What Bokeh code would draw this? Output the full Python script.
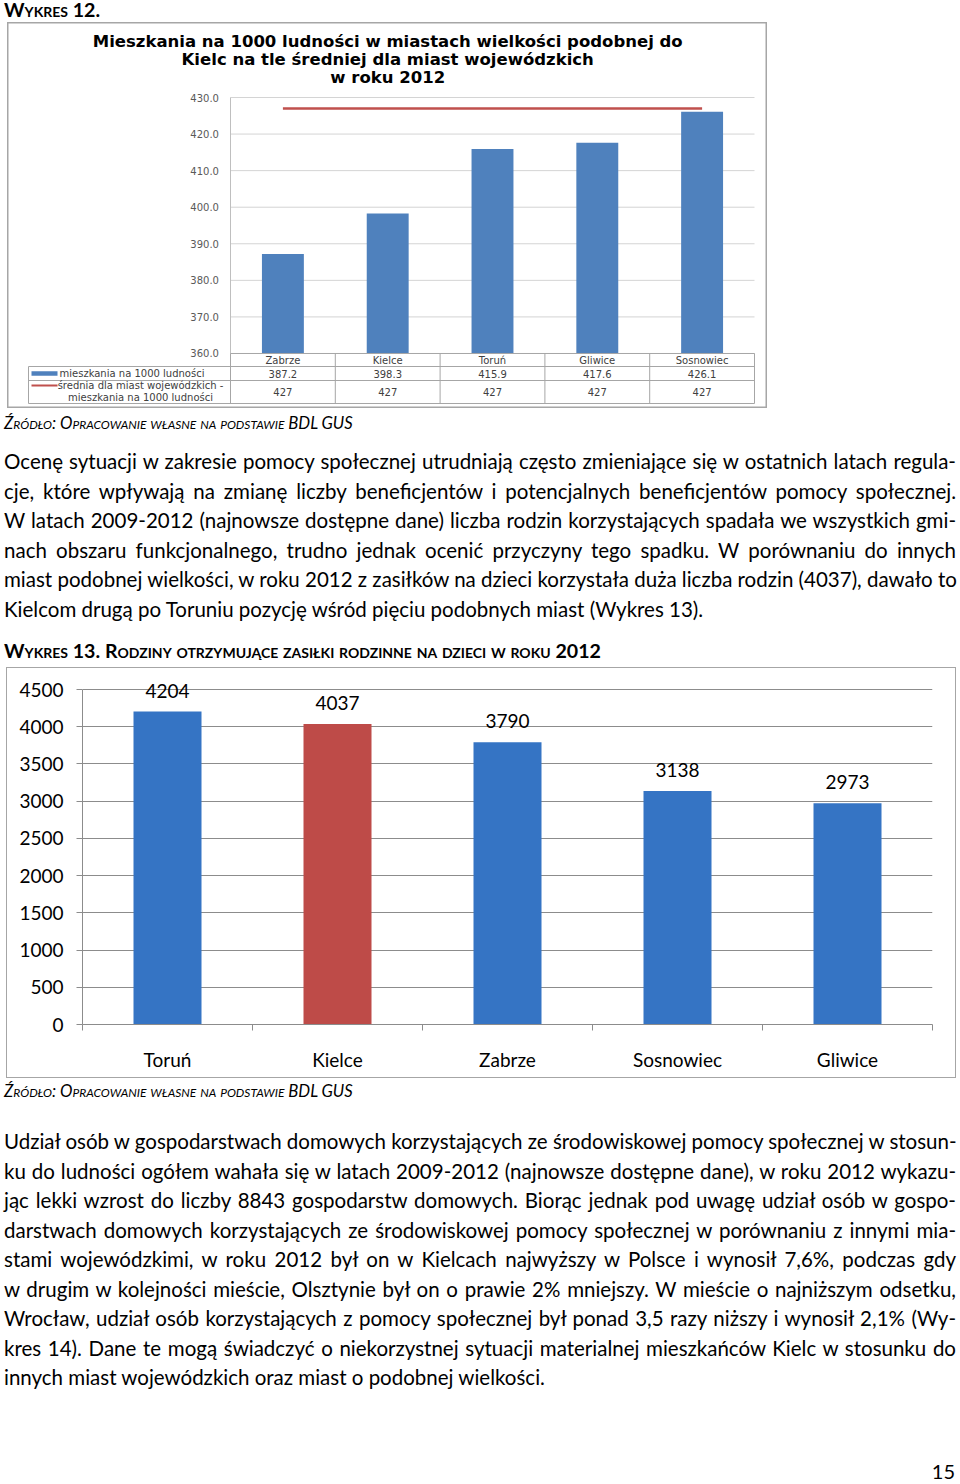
from bokeh.plotting import figure
from bokeh.models import Range1d, Div, FixedTicker, Spacer
from bokeh.layouts import column, row
from bokeh.embed import file_html
from bokeh.resources import INLINE
from bokeh.core.properties import value

# ---------------- data: chart 12 ----------------
c1_cities = ["Zabrze", "Kielce", "Toruń", "Gliwice", "Sosnowiec"]
c1_values = [387.2, 398.3, 415.9, 417.6, 426.1]
c1_avg = [427, 427, 427, 427, 427]
c1_ticks = [360, 370, 380, 390, 400, 410, 420, 430]
c1_title = ["Mieszkania na 1000 ludności w miastach wielkości podobnej do",
            "Kielc na tle średniej dla miast wojewódzkich",
            "w roku 2012"]
c1_series_bar = "mieszkania na 1000 ludności"
c1_series_line = ["średnia dla miast wojewódzkich -", "mieszkania na 1000 ludności"]

# ---------------- data: chart 13 ----------------
c2_cities = ["Toruń", "Kielce", "Zabrze", "Sosnowiec", "Gliwice"]
c2_values = [4204, 4037, 3790, 3138, 2973]
c2_ticks = [0, 500, 1000, 1500, 2000, 2500, 3000, 3500, 4000, 4500]
BLUE2 = "#3574C4"
RED2 = "#BE4B48"
c2_colors = [BLUE2, RED2, BLUE2, BLUE2, BLUE2]

# ---------------- texts ----------------
para1 = [
    "Ocenę sytuacji w zakresie pomocy społecznej utrudniają często zmieniające się w ostatnich latach regula-",
    "cje, które wpływają na zmianę liczby beneficjentów i potencjalnych beneficjentów pomocy społecznej.",
    "W latach 2009-2012 (najnowsze dostępne dane) liczba rodzin korzystających spadała we wszystkich gmi-",
    "nach obszaru funkcjonalnego, trudno jednak ocenić przyczyny tego spadku. W porównaniu do innych",
    "miast podobnej wielkości, w roku 2012 z zasiłków na dzieci korzystała duża liczba rodzin (4037), dawało to",
    "Kielcom drugą po Toruniu pozycję wśród pięciu podobnych miast (Wykres 13).",
]
para2 = [
    "Udział osób w gospodarstwach domowych korzystających ze środowiskowej pomocy społecznej w stosun-",
    "ku do ludności ogółem wahała się w latach 2009-2012 (najnowsze dostępne dane), w roku 2012 wykazu-",
    "jąc lekki wzrost do liczby 8843 gospodarstw domowych. Biorąc jednak pod uwagę udział osób w gospo-",
    "darstwach domowych korzystających ze środowiskowej pomocy społecznej w porównaniu z innymi mia-",
    "stami wojewódzkimi, w roku 2012 był on w Kielcach najwyższy w Polsce i wynosił 7,6%, podczas gdy",
    "w drugim w kolejności mieście, Olsztynie był on o prawie 2% mniejszy. W mieście o najniższym odsetku,",
    "Wrocław, udział osób korzystających z pomocy społecznej był ponad 3,5 razy niższy i wynosił 2,1% (Wy-",
    "kres 14). Dane te mogą świadczyć o niekorzystnej sytuacji materialnej mieszkańców Kielc w stosunku do",
    "innych miast wojewódzkich oraz miast o podobnej wielkości.",
]
heading12 = "Wykres 12."
heading13 = "Wykres 13. Rodziny otrzymujące zasiłki rodzinne na dzieci w roku 2012"
source = "Źródło: Opracowanie własne na podstawie BDL GUS"
page_no = "15"

FONT = "Lato"
BODY_SIZE = "20.5px"
W = 960
DIV_STYLE = {"display": "block", "overflow": "visible", "margin": "0", "padding": "0"}


def para_html(lines, top):
    out = [f'<div style="position:absolute;left:4px;top:{top}px;width:952px;'
           f'font-family:{FONT};font-size:{BODY_SIZE};line-height:29.5px;color:#000;">']
    for i, ln in enumerate(lines):
        last = i == len(lines) - 1
        al = "left" if last else "justify"
        out.append(f'<div style="white-space:nowrap;text-align:{al};text-align-last:{al};">{ln}</div>')
    out.append('</div>')
    return "".join(out)


def source_html(top):
    return (f'<div style="position:absolute;left:4px;top:{top}px;font-family:{FONT};font-style:italic;'
            f'font-variant:small-caps;font-size:16.7px;line-height:20px;white-space:nowrap;color:#000;">{source}</div>')


def heading_html(text, top, size="19.6px", lh=22):
    return (f'<div style="position:absolute;left:4px;top:{top}px;font-family:{FONT};font-weight:bold;'
            f'font-variant:small-caps;font-size:{size};line-height:{lh}px;white-space:nowrap;color:#000;">{text}</div>')


def block(inner, h):
    return Div(text=f'<div style="position:relative;display:block;vertical-align:top;width:{W}px;'
                    f'height:{h}px;margin:0;padding:0;">' + inner + '</div>',
               width=W, height=h, styles=DIV_STYLE)


# ---------------- heading 12 ----------------
divA = block(heading_html(heading12, 0, "19.6px", 19), 22)

# ---------------- chart 12 ----------------
PX = 104.8    # px per category
PY = 3.657    # px per unit
x0 = -223 / PX
y_top = 430 + 75 / PY
p1 = figure(width=760, height=386, output_backend="svg", toolbar_location=None,
            x_range=Range1d(x0, x0 + 760 / PX), y_range=Range1d(y_top - 386 / PY, y_top),
            x_axis_location=None, y_axis_location=None, min_border=0, frame_align=False)
p1.grid.visible = False
p1.outline_line_color = "#A6A6A6"
p1.outline_line_width = 2
p1.background_fill_color = "white"
p1.border_fill_color = "white"

xc = [i + 0.5 for i in range(len(c1_cities))]

# title
p1.text(x=[1.5] * 3, y=[430 + 56 / PY, 430 + 38 / PY, 430 + 20 / PY], text=c1_title,
        text_align="center", text_baseline="middle", text_font=value("DejaVu Sans"),
        text_font_style="bold", text_font_size="16.5px", text_color="#000000")

# grid lines and left border of plot area
p1.segment(x0=[0] * len(c1_ticks), x1=[5] * len(c1_ticks), y0=c1_ticks, y1=c1_ticks,
           line_color="#D4D4D4", line_width=1)
p1.segment(x0=[0], x1=[0], y0=[c1_ticks[0]], y1=[c1_ticks[-1]], line_color="#BFBFBF", line_width=1)

# y tick labels
p1.text(x=[-0.11] * len(c1_ticks), y=c1_ticks, text=[f"{t:.1f}" for t in c1_ticks],
        text_align="right", text_baseline="middle", text_font=value("DejaVu Sans"),
        text_font_size="10px", text_color="#595959")

# bars and average line
p1.vbar(x=xc, top=c1_values, bottom=c1_ticks[0], width=0.4, fill_color="#4F81BD", line_color=None)
p1.line(x=xc, y=c1_avg, line_color="#C0504D", line_width=2.5)

# data table
r_top = 360
r1 = 430 - 269 / PY
r2 = 430 - 283 / PY
r3 = 430 - 306 / PY
lx = (28 - 230) / PX
tc = "#A6A6A6"
p1.segment(x0=[0], x1=[5], y0=[r_top], y1=[r_top], line_color=tc)
p1.segment(x0=[lx] * 3, x1=[5] * 3, y0=[r1, r2, r3], y1=[r1, r2, r3], line_color=tc)
p1.segment(x0=list(range(6)), x1=list(range(6)), y0=[r_top] * 6, y1=[r3] * 6, line_color=tc)
p1.segment(x0=[lx], x1=[lx], y0=[r1], y1=[r3], line_color=tc)

tfont = dict(text_font=value("DejaVu Sans"), text_font_size="10px", text_color="#404040",
             text_baseline="middle")
row_h = (430 - 262.5 / PY, 430 - 276 / PY, 430 - 294.5 / PY)
p1.text(x=xc, y=[row_h[0]] * 5, text=c1_cities, text_align="center", **tfont)
p1.text(x=xc, y=[row_h[1]] * 5, text=[f"{v:.1f}" for v in c1_values], text_align="center", **tfont)
p1.text(x=xc, y=[row_h[2]] * 5, text=[f"{v}" for v in c1_avg], text_align="center", **tfont)

# legend keys inside table
kx0 = (31 - 230) / PX
kx1 = (57 - 230) / PX
p1.quad(left=[kx0], right=[kx1], bottom=[row_h[1] - 0.6], top=[row_h[1] + 0.6],
        fill_color="#4F81BD", line_color=None)
p1.text(x=[(59 - 230) / PX], y=[row_h[1]], text=[c1_series_bar], text_align="left", **tfont)
ly1 = 430 - 288 / PY
ly2 = 430 - 300 / PY
p1.segment(x0=[kx0], x1=[kx1], y0=[ly1], y1=[ly1], line_color="#C0504D", line_width=2)
p1.text(x=[(140 - 230) / PX] * 2, y=[ly1, ly2], text=c1_series_line, text_align="center", **tfont)

row1 = row(Spacer(width=7, height=386), p1, spacing=0)

# ---------------- block between charts ----------------
divB = block(source_html(5) + para_html(para1, 39.25) + heading_html(heading13, 232, "19.6px"), 259)

# ---------------- chart 13 ----------------
UPX = 4500 / 335.0
p2 = figure(width=950, height=411, output_backend="svg", toolbar_location=None,
            x_range=Range1d(0, 5), y_range=Range1d(0, 347 * UPX), frame_align=False,
            min_border_left=76, min_border_right=24, min_border_top=10, min_border_bottom=54)
p2.outline_line_color = None
p2.background_fill_alpha = 0
p2.border_fill_alpha = 0
p2.styles = {"box-shadow": "inset 0 0 0 1px #A6A6A6"}

gray = "#8C8C8C"
ya = p2.yaxis[0]
ya.ticker = FixedTicker(ticks=c2_ticks)
ya.bounds = (0, 4500)
ya.axis_line_color = gray
ya.major_tick_line_color = gray
ya.major_tick_out = 6
ya.major_tick_in = 0
ya.minor_tick_line_color = None
ya.major_label_text_font = FONT
ya.major_label_text_font_size = "19px"
ya.major_label_text_color = "#000000"
ya.major_label_standoff = 13

xa = p2.xaxis[0]
xa.ticker = FixedTicker(ticks=[i + 0.5 for i in range(5)], minor_ticks=[0, 1, 2, 3, 4, 5])
xa.major_label_overrides = {i + 0.5: c for i, c in enumerate(c2_cities)}
xa.axis_line_color = gray
xa.major_tick_line_color = None
xa.major_tick_out = 0
xa.major_tick_in = 0
xa.minor_tick_line_color = gray
xa.minor_tick_out = 6
xa.minor_tick_in = 0
xa.major_label_text_font = FONT
xa.major_label_text_font_size = "19px"
xa.major_label_text_color = "#000000"
xa.major_label_standoff = 17

p2.xgrid.visible = False
p2.ygrid.ticker = FixedTicker(ticks=c2_ticks)
p2.ygrid.grid_line_color = gray
p2.ygrid.grid_line_width = 1

x2 = [i + 0.5 for i in range(5)]
p2.vbar(x=x2, top=c2_values, bottom=0, width=0.4, fill_color=c2_colors, line_color=None)
p2.text(x=x2, y=c2_values, text=[str(v) for v in c2_values], y_offset=-21,
        text_align="center", text_baseline="middle", text_font=value(FONT),
        text_font_size="19px", text_color="#000000")

row2 = row(Spacer(width=6, height=411), p2, spacing=0)

# ---------------- block after chart 13 ----------------
divC = block(source_html(3) + para_html(para2, 49.25)
             + f'<div style="position:absolute;right:5px;top:381px;font-family:{FONT};font-size:20px;'
               f'line-height:24px;">{page_no}</div>', 404)

layout = column(divA, row1, divB, row2, divC, spacing=0)

with open("out.html", "w") as f:
    f.write(file_html(layout, INLINE))
